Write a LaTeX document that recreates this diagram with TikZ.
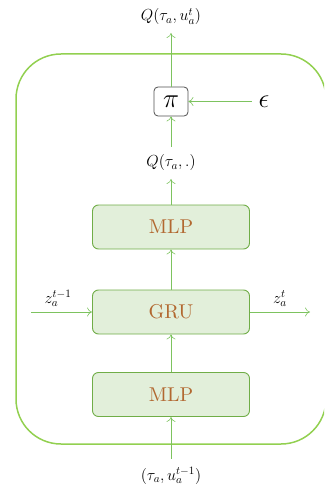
\RequirePackage{fix-cm}
\documentclass[tikz,border=0pt]{standalone}
\usepackage{fontspec}
\usetikzlibrary{arrows.meta}

% text face of the layer boxes: the 10pt design, scaled up
\newfontfamily\layerfont{lmroman10-regular.otf}

\definecolor{framegreen}{RGB}{146,208,80}
\definecolor{linkgreen}{RGB}{125,195,95}
\definecolor{boxfill}{RGB}{226,239,218}
\definecolor{boxline}{RGB}{112,173,71}
\definecolor{labelbrown}{RGB}{178,104,48}
\definecolor{pigray}{RGB}{80,80,80}

\begin{document}
\begin{tikzpicture}[x=1pt,y=-1pt,
  layer/.style={draw=boxline, fill=boxfill, line width=0.9pt, rounded corners=6pt,
    minimum width=157pt, minimum height=44pt, inner sep=0pt, text=labelbrown,
    font=\layerfont\fontsize{20}{24}\selectfont},
  pibox/.style={draw=pigray, fill=white, line width=0.8pt, rounded corners=4pt,
    minimum width=34pt, minimum height=29pt, inner sep=0pt,
    font=\fontsize{27}{32}\selectfont},
  mathlabel/.style={inner sep=0pt, outer sep=8pt, anchor=base,
    font=\fontsize{16}{19}\selectfont},
  link/.style={draw=linkgreen, line width=0.6pt, -{To[length=5pt,width=9pt]}},
  agentframe/.style={draw=framegreen, line width=1.5pt, rounded corners=45pt}]

  \useasboundingbox (0,0) rectangle (324,486);
  \clip (0,0) rectangle (324,486);

  % agent network frame
  \draw[agentframe] (16,54) rectangle (326,444);

  % layers
  \node[layer] (mlp1) at (171,394.5) {MLP};
  \node[layer] (gru)  at (171,312)   {GRU};
  \node[layer] (mlp2) at (171,227)   {MLP};

  % policy and noise
  \node[pibox] (pi) at (171,101.5) {$\pi$};
  \node[inner sep=0pt, outer sep=7pt, font=\fontsize{27}{32}\selectfont] (eps) at (264,101.5) {$\epsilon$};

  % value labels
  \node[mathlabel] (qin)  at (171,480) {$(\tau_a, u_a^{t-1})$};
  \node[mathlabel] (qmid) at (171,167) {$Q(\tau_a, .)$};
  \node[mathlabel] (qtop) at (171,21)  {$Q(\tau_a, u_a^t)$};

  % hidden state labels
  \node[mathlabel, outer sep=0pt] (zin)  at (58,303)  {$z_a^{t-1}$};
  \node[mathlabel, outer sep=0pt] (zout) at (280,303) {$z_a^{t}$};
  \coordinate (zinstart) at (31,312);
  \coordinate (zoutend) at (310,312);

  % connections
  \draw[link] (qin) -- (mlp1);
  \draw[link] (mlp1) -- (gru);
  \draw[link] (gru) -- (mlp2);
  \draw[link] (mlp2) -- (qmid);
  \draw[link] (qmid) -- (pi);
  \draw[link] (pi) -- (qtop);
  \draw[link] (eps) -- (pi);
  \draw[link] (zinstart) -- (gru);
  \draw[link] (gru) -- (zoutend);
\end{tikzpicture}
\end{document}
